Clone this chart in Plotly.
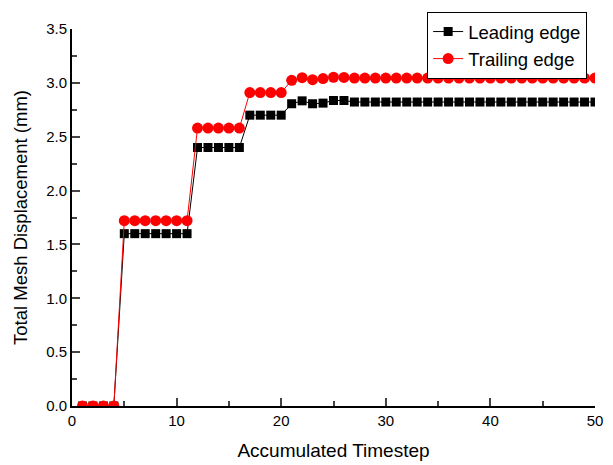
import plotly.graph_objects as go

timesteps = list(range(1, 51))
leading_edge = [0, 0, 0, 0,
                1.6, 1.6, 1.6, 1.6, 1.6, 1.6, 1.6,
                2.4, 2.4, 2.4, 2.4, 2.4,
                2.7, 2.7, 2.7, 2.7,
                2.806, 2.833, 2.806, 2.812, 2.836, 2.836] + [2.822] * 24
trailing_edge = [0, 0, 0, 0,
                 1.72, 1.72, 1.72, 1.72, 1.72, 1.72, 1.72,
                 2.58, 2.58, 2.58, 2.58, 2.58,
                 2.91, 2.91, 2.91, 2.91,
                 3.024, 3.048, 3.03, 3.04, 3.052, 3.05] + [3.044] * 24

fig = go.Figure()
fig.add_trace(go.Scatter(x=timesteps, y=leading_edge, mode="lines+markers", name="Leading edge",
                         line=dict(color="black", width=1),
                         marker=dict(symbol="square", size=9, color="black")))
fig.add_trace(go.Scatter(x=timesteps, y=trailing_edge, mode="lines+markers", name="Trailing edge",
                         line=dict(color="red", width=1),
                         marker=dict(symbol="circle", size=11, color="red")))

font = "Liberation Sans, Arial, sans-serif"
fig.update_layout(
    width=613, height=465,
    margin=dict(l=72, r=18, t=20, b=59),
    paper_bgcolor="white", plot_bgcolor="white",
    font=dict(family=font, color="black", size=15),
    showlegend=True,
    legend=dict(x=0.985, y=1.045, xanchor="right", yanchor="top",
                bordercolor="black", borderwidth=1, bgcolor="white",
                font=dict(size=18.5), tracegroupgap=0, itemwidth=30),
    xaxis=dict(range=[0, 50], dtick=10, ticks="inside", ticklen=8, tickwidth=1.5,
               showline=True, linecolor="black", linewidth=2, showgrid=False, zeroline=False,
               automargin=False,
               minor=dict(ticks="inside", dtick=5, ticklen=5, tickwidth=1.5, showgrid=False),
               title=dict(text="Accumulated Timestep", font=dict(size=19), standoff=16),
               tickfont=dict(size=15)),
    yaxis=dict(range=[0, 3.5], dtick=0.5, tickformat=".1f", ticks="inside", ticklen=8, tickwidth=1.5,
               showline=True, linecolor="black", linewidth=2, showgrid=False, zeroline=False,
               automargin=False,
               minor=dict(ticks="inside", dtick=0.25, ticklen=5, tickwidth=1.5, showgrid=False),
               title=dict(text="Total Mesh Displacement (mm)", font=dict(size=18.5), standoff=14),
               tickfont=dict(size=15)),
)

fig.write_html("out.html")
